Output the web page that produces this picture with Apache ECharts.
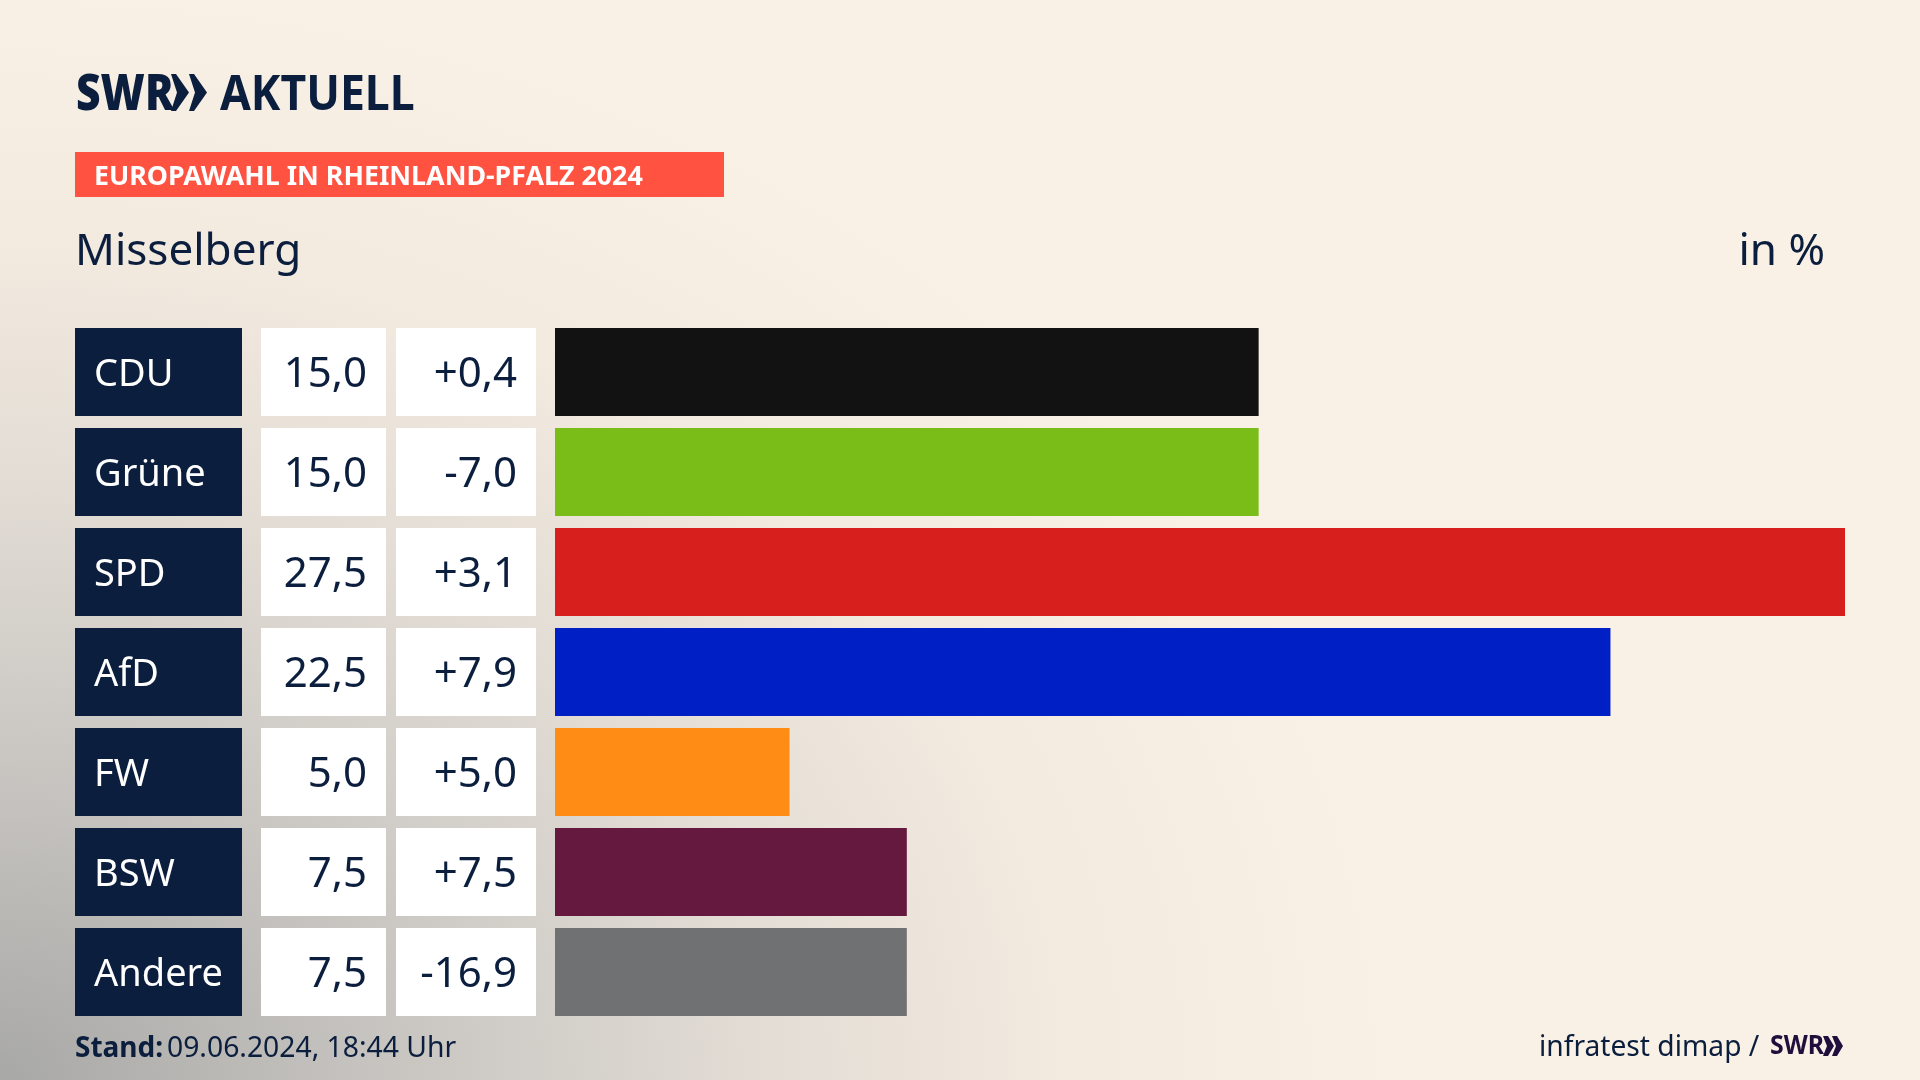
<!DOCTYPE html>
<html>
<head>
<meta charset="utf-8">
<script src="https://cdn.jsdelivr.net/npm/echarts@6/dist/echarts.min.js"></script>
<style>
  html, body { margin: 0; padding: 0; width: 1920px; height: 1080px; overflow: hidden; }
  body { background: radial-gradient(ellipse 1400px 1100px at 0 100%, #a8a8a6 0%, #cac7c3 30%, #e3ddd5 55%, #f2e9df 75%, #faf1e6 100%) #faf1e6; }
  #chart { width: 1920px; height: 1080px; }
</style>
</head>
<body>
<div id="chart"></div>
<script>
// Werte
const parties = ['CDU', 'Grüne', 'SPD', 'AfD', 'FW', 'BSW', 'Andere'];
const shares = [15.0, 15.0, 27.5, 22.5, 5.0, 7.5, 7.5];
const changes = [0.4, -7.0, 3.1, 7.9, 5.0, 7.5, -16.9];
const barColors = ['#121212', '#7abd19', '#d71f1d', '#0020c6', '#ff8c14', '#66193f', '#707173'];

const FONT = '"Noto Sans"';
const NAVY = '#0b1e3d';
const PURPLE = '#1e0f3c';

const chart = echarts.init(document.getElementById('chart'));

function fmt(v) { return v.toFixed(1).replace('.', ','); }
function fmtDiff(v) { return (v > 0 ? '+' : '') + fmt(v); }

// die vier Spalten liegen in eigenen grids, gleiche Hoehe
const columns = [
    { left: 75, width: 167 },
    { left: 261, width: 125 },
    { left: 396, width: 140 },
    { left: 555, width: 1290 }
];

// Textzellen: Balken fuellt die ganze Spalte (Achse 0..1)
function cellSeries(i, color, textColor, position, fontSize, texts) {
    return {
        type: 'bar',
        xAxisIndex: i,
        yAxisIndex: i,
        barWidth: 88,
        silent: true,
        itemStyle: { color: color },
        label: {
            show: true,
            position: position,
            distance: 19,
            offset: [0, 3],
            color: textColor,
            fontFamily: FONT,
            fontSize: fontSize,
            formatter: function (p) { return texts[p.dataIndex]; }
        },
        data: parties.map(function () { return 1; })
    };
}

function text(str, x, y, size, opts) {
    opts = opts || {};
    return {
        type: 'text',
        x: x,
        y: y,
        scaleX: opts.scaleX || 1,
        style: {
            text: str,
            fontFamily: FONT,
            fontWeight: opts.weight || 'normal',
            fontSize: size,
            fill: opts.fill || NAVY,
            align: opts.align || 'left'
        }
    };
}

const option = {
    animation: false,
    grid: columns.map(function (c) {
        return { left: c.left, width: c.width, top: 322, height: 700 };
    }),
    xAxis: columns.map(function (c, i) {
        return { type: 'value', gridIndex: i, min: 0, max: i === 3 ? 27.5 : 1, show: false };
    }),
    yAxis: columns.map(function (c, i) {
        return { type: 'category', gridIndex: i, inverse: true, data: parties, show: false };
    }),
    series: [
        cellSeries(0, NAVY, '#ffffff', 'insideLeft', 38, parties),
        cellSeries(1, '#ffffff', NAVY, 'insideRight', 42, shares.map(fmt)),
        cellSeries(2, '#ffffff', NAVY, 'insideRight', 42, changes.map(fmtDiff)),
        {
            type: 'bar',
            xAxisIndex: 3,
            yAxisIndex: 3,
            barWidth: 88,
            silent: true,
            data: shares.map(function (v, i) {
                return { value: v, itemStyle: { color: barColors[i] } };
            })
        }
    ],
    graphic: [
        // Kopf
        text('SWR', 76, 72, 49, { weight: 900, scaleX: 0.87 }),
        { type: 'polygon', shape: { points: [[171, 74], [176, 74], [189, 92.5], [176, 111], [171, 111], [177, 92.5]] }, style: { fill: NAVY } },
        { type: 'polygon', shape: { points: [[189, 74], [194, 74], [207, 92.5], [194, 111], [189, 111], [195, 92.5]] }, style: { fill: NAVY } },
        text('AKTUELL', 220, 72, 49, { weight: 'bold', scaleX: 0.91 }),
        { type: 'rect', shape: { x: 75, y: 152, width: 649, height: 45 }, style: { fill: '#ff5240' } },
        text('EUROPAWAHL IN RHEINLAND-PFALZ 2024', 94, 164, 26.8, { weight: 'bold', fill: '#ffffff' }),
        text('Misselberg', 75, 230, 44),
        text('in %', 1825, 230, 44, { align: 'right' }),
        // Fuss
        text('Stand:', 75, 1035, 28, { weight: 'bold' }),
        text('09.06.2024, 18:44 Uhr', 167, 1035, 28.3),
        text('infratest dimap /', 1539, 1034, 28.2),
        text('SWR', 1770, 1033, 27, { weight: 'bold', scaleX: 0.92, fill: PURPLE }),
        { type: 'polygon', shape: { points: [[1823, 1036], [1828, 1036], [1834, 1046], [1828, 1056], [1823, 1056], [1827, 1046]] }, style: { fill: PURPLE } },
        { type: 'polygon', shape: { points: [[1832, 1036], [1837, 1036], [1843, 1046], [1837, 1056], [1832, 1056], [1836, 1046]] }, style: { fill: PURPLE } }
    ]
};

chart.setOption(option);
</script>
</body>
</html>
